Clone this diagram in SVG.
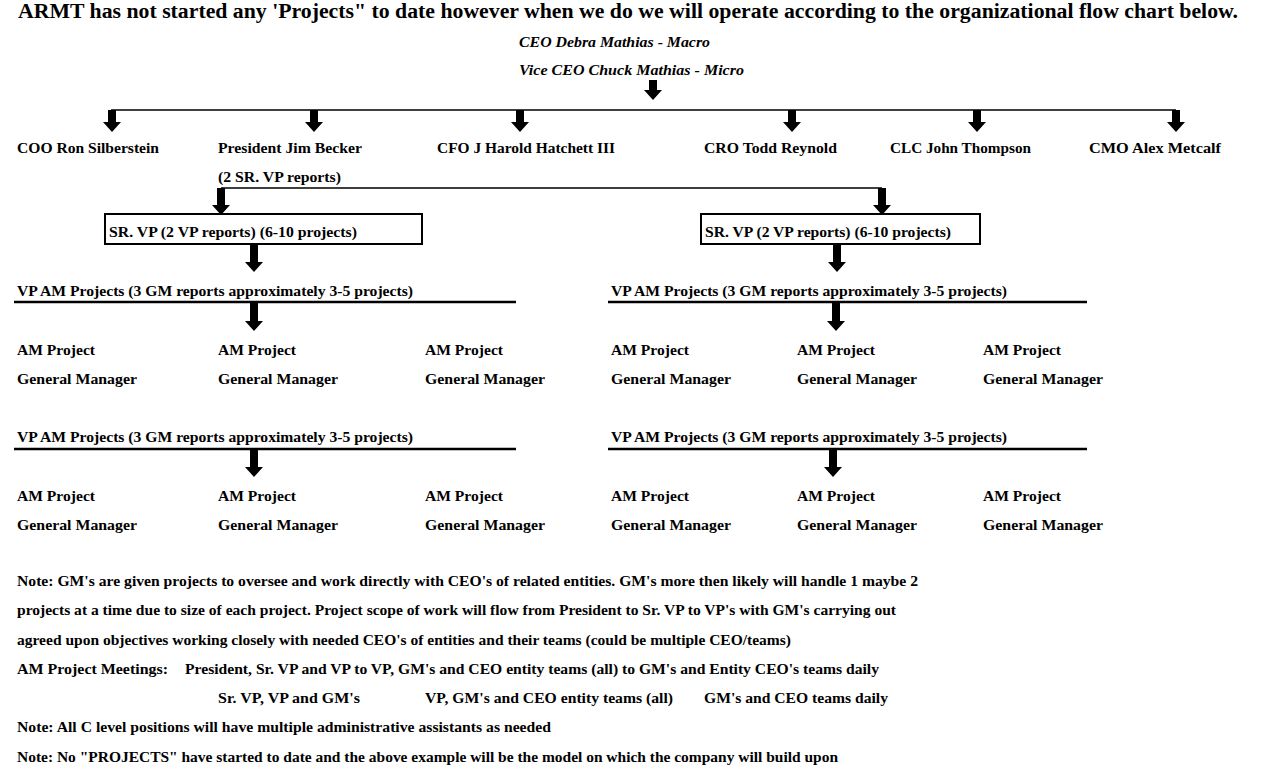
<svg xmlns="http://www.w3.org/2000/svg" width="1263" height="777" viewBox="0 0 1263 777">
<style>
text{font-family:"Liberation Serif","Times New Roman",serif;font-weight:bold;fill:#000;font-size:15.5px}
.title{font-size:20px}
.it{font-style:italic}
.note{font-size:15px}
.ln{stroke:#000;stroke-width:1.6;fill:none}
.ul{stroke:#000;stroke-width:2.4;fill:none}
.box{stroke:#000;stroke-width:2;fill:#fff}
.ar{fill:#000}
</style>
<rect width="1263" height="777" fill="#fff"/>
<text class="title" x="18" y="18" textLength="1220" lengthAdjust="spacingAndGlyphs">ARMT has not started any 'Projects" to date however when we do we will operate according to the organizational flow chart below.</text>
<g id="ceo"><text class="it" x="519" y="47" textLength="191" lengthAdjust="spacingAndGlyphs">CEO Debra Mathias - Macro</text>
<text class="it" x="519" y="75" textLength="225" lengthAdjust="spacingAndGlyphs">Vice CEO Chuck Mathias - Micro</text></g>
<g id="connectors">
<path class="ln" d="M111 110H1176M221 188H882"/>
<path class="ul" d="M14 302H516M608 302H1087M14 449H516M608 449H1087"/>
<g class="ar">
<path d="M649 80h8v10h5l-9 10l-9-10h5z"/>
<path d="M108 110h8v12h5l-9 10l-9-10h5z"/>
<path d="M310 110h8v12h5l-9 10l-9-10h5z"/>
<path d="M516 110h8v12h5l-9 10l-9-10h5z"/>
<path d="M788 110h8v12h5l-9 10l-9-10h5z"/>
<path d="M973 110h8v12h5l-9 10l-9-10h5z"/>
<path d="M1172 110h8v12h5l-9 10l-9-10h5z"/>
<path d="M217 188h8v17h5l-9 10l-9-10h5z"/>
<path d="M878 188h8v17h5l-9 10l-9-10h5z"/>
<path d="M250 244h8v18h5l-9 10l-9-10h5z"/>
<path d="M833 244h8v18h5l-9 10l-9-10h5z"/>
<path d="M250 303h8v18h5l-9 10l-9-10h5z"/>
<path d="M832 303h8v18h5l-9 10l-9-10h5z"/>
<path d="M250 450h8v17h5l-9 10l-9-10h5z"/>
<path d="M829 450h8v17h5l-9 10l-9-10h5z"/>
</g>
</g>
<g id="coo"><text x="17" y="153" textLength="142" lengthAdjust="spacingAndGlyphs">COO Ron Silberstein</text></g>
<g id="president"><text x="218" y="153" textLength="144" lengthAdjust="spacingAndGlyphs">President Jim Becker</text>
<text x="218" y="182" textLength="123" lengthAdjust="spacingAndGlyphs">(2 SR. VP reports)</text></g>
<g id="cfo"><text x="437" y="153" textLength="178" lengthAdjust="spacingAndGlyphs">CFO J Harold Hatchett III</text></g>
<g id="cro"><text x="704" y="153" textLength="133" lengthAdjust="spacingAndGlyphs">CRO Todd Reynold</text></g>
<g id="clc"><text x="890" y="153" textLength="141" lengthAdjust="spacingAndGlyphs">CLC John Thompson</text></g>
<g id="cmo"><text x="1089" y="153" textLength="132" lengthAdjust="spacingAndGlyphs">CMO Alex Metcalf</text></g>
<g id="srvp1"><rect class="box" x="105" y="214" width="317" height="30"/>
<text x="109" y="237" textLength="248" lengthAdjust="spacingAndGlyphs">SR. VP (2 VP reports) (6-10 projects)</text></g>
<g id="srvp2"><rect class="box" x="701" y="214" width="279" height="30"/>
<text x="705" y="237" textLength="246" lengthAdjust="spacingAndGlyphs">SR. VP (2 VP reports) (6-10 projects)</text></g>
<g id="vp1"><text x="17" y="296" textLength="396" lengthAdjust="spacingAndGlyphs">VP AM Projects (3 GM reports approximately 3-5 projects)</text></g>
<g id="vp2"><text x="611" y="296" textLength="396" lengthAdjust="spacingAndGlyphs">VP AM Projects (3 GM reports approximately 3-5 projects)</text></g>
<g id="vp3"><text x="17" y="442" textLength="396" lengthAdjust="spacingAndGlyphs">VP AM Projects (3 GM reports approximately 3-5 projects)</text></g>
<g id="vp4"><text x="611" y="442" textLength="396" lengthAdjust="spacingAndGlyphs">VP AM Projects (3 GM reports approximately 3-5 projects)</text></g>
<g id="gm-row1">
<g id="gm1"><text x="17" y="355" textLength="78" lengthAdjust="spacingAndGlyphs">AM Project</text><text x="17" y="384" textLength="120" lengthAdjust="spacingAndGlyphs">General Manager</text></g>
<g id="gm2"><text x="218" y="355" textLength="78" lengthAdjust="spacingAndGlyphs">AM Project</text><text x="218" y="384" textLength="120" lengthAdjust="spacingAndGlyphs">General Manager</text></g>
<g id="gm3"><text x="425" y="355" textLength="78" lengthAdjust="spacingAndGlyphs">AM Project</text><text x="425" y="384" textLength="120" lengthAdjust="spacingAndGlyphs">General Manager</text></g>
<g id="gm4"><text x="611" y="355" textLength="78" lengthAdjust="spacingAndGlyphs">AM Project</text><text x="611" y="384" textLength="120" lengthAdjust="spacingAndGlyphs">General Manager</text></g>
<g id="gm5"><text x="797" y="355" textLength="78" lengthAdjust="spacingAndGlyphs">AM Project</text><text x="797" y="384" textLength="120" lengthAdjust="spacingAndGlyphs">General Manager</text></g>
<g id="gm6"><text x="983" y="355" textLength="78" lengthAdjust="spacingAndGlyphs">AM Project</text><text x="983" y="384" textLength="120" lengthAdjust="spacingAndGlyphs">General Manager</text></g>
</g>
<g id="gm-row2">
<g id="gm7"><text x="17" y="501" textLength="78" lengthAdjust="spacingAndGlyphs">AM Project</text><text x="17" y="530" textLength="120" lengthAdjust="spacingAndGlyphs">General Manager</text></g>
<g id="gm8"><text x="218" y="501" textLength="78" lengthAdjust="spacingAndGlyphs">AM Project</text><text x="218" y="530" textLength="120" lengthAdjust="spacingAndGlyphs">General Manager</text></g>
<g id="gm9"><text x="425" y="501" textLength="78" lengthAdjust="spacingAndGlyphs">AM Project</text><text x="425" y="530" textLength="120" lengthAdjust="spacingAndGlyphs">General Manager</text></g>
<g id="gm10"><text x="611" y="501" textLength="78" lengthAdjust="spacingAndGlyphs">AM Project</text><text x="611" y="530" textLength="120" lengthAdjust="spacingAndGlyphs">General Manager</text></g>
<g id="gm11"><text x="797" y="501" textLength="78" lengthAdjust="spacingAndGlyphs">AM Project</text><text x="797" y="530" textLength="120" lengthAdjust="spacingAndGlyphs">General Manager</text></g>
<g id="gm12"><text x="983" y="501" textLength="78" lengthAdjust="spacingAndGlyphs">AM Project</text><text x="983" y="530" textLength="120" lengthAdjust="spacingAndGlyphs">General Manager</text></g>
</g>
<g id="notes">
<text class="note" x="17" y="586" textLength="901" lengthAdjust="spacingAndGlyphs">Note: GM's are given projects to oversee and work directly with CEO's of related entities. GM's more then likely will handle 1 maybe 2</text>
<text class="note" x="17" y="615" textLength="879" lengthAdjust="spacingAndGlyphs">projects at a time due to size of each project.  Project scope of work will flow from President to Sr. VP to VP's with GM's carrying out</text>
<text class="note" x="17" y="645" textLength="774" lengthAdjust="spacingAndGlyphs">agreed upon objectives working closely with needed CEO's of entities and their teams (could be multiple CEO/teams)</text>
<text class="note" x="17" y="674" textLength="151" lengthAdjust="spacingAndGlyphs">AM Project Meetings:</text>
<text class="note" x="185" y="674" textLength="694" lengthAdjust="spacingAndGlyphs">President, Sr. VP and VP to VP, GM's and CEO entity teams (all) to GM's and Entity CEO's teams daily</text>
<text class="note" x="218" y="703" textLength="142" lengthAdjust="spacingAndGlyphs">Sr. VP, VP and GM's</text>
<text class="note" x="425" y="703" textLength="248" lengthAdjust="spacingAndGlyphs">VP, GM's and CEO entity teams (all)</text>
<text class="note" x="704" y="703" textLength="184" lengthAdjust="spacingAndGlyphs">GM's and CEO teams daily</text>
<text class="note" x="17" y="732" textLength="534" lengthAdjust="spacingAndGlyphs">Note: All C level positions will have multiple administrative assistants as needed</text>
<text class="note" x="17" y="762" textLength="821" lengthAdjust="spacingAndGlyphs">Note: No "PROJECTS" have started to date and the above example will be the model on which the company will build upon</text>
</g>
</svg>
